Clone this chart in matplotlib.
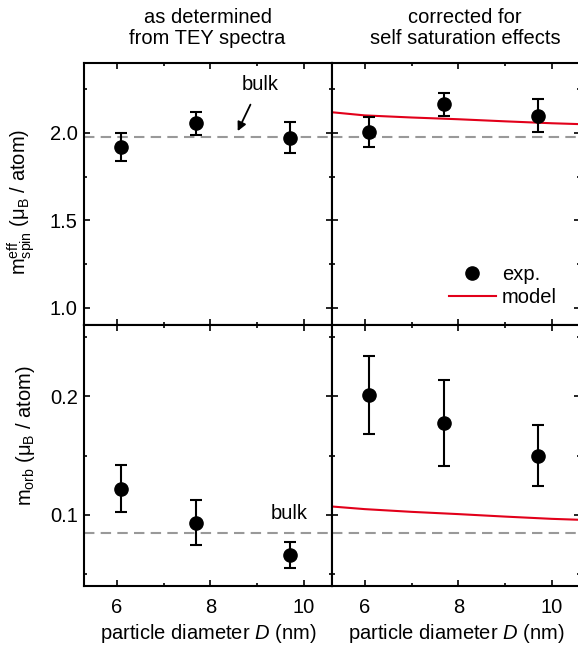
import numpy as np
import matplotlib
matplotlib.use('Agg')
import matplotlib.pyplot as plt
from matplotlib.ticker import MultipleLocator

plt.rcParams['font.family'] = ['Liberation Sans', 'DejaVu Sans']
plt.rcParams['font.size'] = 14.5
plt.rcParams['mathtext.fontset'] = 'custom'
plt.rcParams['mathtext.rm'] = 'Liberation Sans'
plt.rcParams['mathtext.it'] = 'Liberation Sans:italic'
plt.rcParams['mathtext.default'] = 'regular'

# particle diameters (nm)
D = [6.1, 7.7, 9.7]

# spin moment, as determined from TEY
spin_tey = [1.92, 2.055, 1.973]
spin_tey_err = [0.08, 0.065, 0.09]
# spin moment, corrected
spin_cor = [2.004, 2.164, 2.099]
spin_cor_err = [0.084, 0.067, 0.095]

# orbital moment, as determined from TEY
orb_tey = [0.122, 0.0935, 0.0664]
orb_tey_err = [0.020, 0.019, 0.011]
# orbital moment, corrected
orb_cor = [0.201, 0.1773, 0.150]
orb_cor_err = [0.033, 0.036, 0.0257]

# model curves
D_model = [5.3, 6, 7, 8, 9, 10, 10.6]
spin_model = [2.118, 2.100, 2.088, 2.078, 2.066, 2.055, 2.050]
orb_model = [0.107, 0.1048, 0.1025, 0.1006, 0.0985, 0.0966, 0.0958]

spin_bulk = 1.978
orb_bulk = 0.085

red = '#e2001a'
grey = '#999999'

fig = plt.figure(figsize=(5.78, 6.49), dpi=100)
W, H = 578.0, 649.0
ax_tl = fig.add_axes([84/W, 1-325/H, 248/W, 262/H])
ax_tr = fig.add_axes([332/W, 1-325/H, 248/W, 262/H])
ax_bl = fig.add_axes([84/W, 1-586/H, 248/W, 261/H])
ax_br = fig.add_axes([332/W, 1-586/H, 248/W, 261/H])


def draw_points(ax, y, yerr, label=None):
    ax.errorbar(D, y, yerr=yerr, fmt='none', ecolor='black', elinewidth=1.5,
                capsize=4.5, capthick=1.5, zorder=3)
    ax.plot(D, y, 'o', color='black', markersize=9.5, zorder=4, label=label)


draw_points(ax_tl, spin_tey, spin_tey_err)
draw_points(ax_tr, spin_cor, spin_cor_err, label='exp.')
draw_points(ax_bl, orb_tey, orb_tey_err)
draw_points(ax_br, orb_cor, orb_cor_err)

ax_tr.plot(D_model, spin_model, color=red, lw=1.5, label='model')
ax_br.plot(D_model, orb_model, color=red, lw=1.5)

for ax in [ax_tl, ax_tr]:
    ax.axhline(spin_bulk, color=grey, lw=1.5, ls=(0, (5, 3)), zorder=1)
    ax.set_ylim(0.9, 2.4)
    ax.yaxis.set_major_locator(MultipleLocator(0.5))
    ax.yaxis.set_minor_locator(MultipleLocator(0.25))
for ax in [ax_bl, ax_br]:
    ax.axhline(orb_bulk, color=grey, lw=1.5, ls=(0, (5, 3)), zorder=1)
    ax.set_ylim(0.04, 0.26)
    ax.yaxis.set_major_locator(MultipleLocator(0.1))
    ax.yaxis.set_minor_locator(MultipleLocator(0.05))

for ax in [ax_tl, ax_tr, ax_bl, ax_br]:
    ax.set_xlim(5.3, 10.6)
    ax.xaxis.set_major_locator(MultipleLocator(2))
    ax.xaxis.set_minor_locator(MultipleLocator(1))
    ax.tick_params(which='both', direction='in', top=True, right=True, width=1.2)
    ax.tick_params(which='major', length=4)
    ax.tick_params(which='minor', length=2.5)
    ax.tick_params(axis='x', pad=8.5)
    ax.tick_params(axis='y', pad=4.5)
    for s in ax.spines.values():
        s.set_linewidth(1.5)

ax_tl.tick_params(labelbottom=False)
ax_tr.tick_params(labelbottom=False, labelleft=False)
ax_br.tick_params(labelleft=False)

ax_tl.set_ylabel('m$^{eff}_{spin}$ (μ$_B$ / atom)')
ax_bl.set_ylabel('m$_{orb}$ (μ$_B$ / atom)')
ax_tl.yaxis.set_label_coords(-0.188, 0.47)
ax_bl.yaxis.set_label_coords(-0.19, 0.575)

ax_bl.set_xlabel(r'particle diameter $\mathit{D}$ (nm)', labelpad=4)
ax_br.set_xlabel(r'particle diameter $\mathit{D}$ (nm)', labelpad=4)

ax_tl.annotate('bulk', xy=(8.585, 2.01), xytext=(9.06, 2.275),
               ha='center', va='center', fontsize=14.5,
               arrowprops=dict(arrowstyle='-|>', color='black', lw=1.3,
                               mutation_scale=13, shrinkA=6, shrinkB=0))
ax_bl.text(9.68, 0.101, 'bulk', ha='center', va='center')

ax_tr.legend(loc='lower right', bbox_to_anchor=(0.906, 0.07), frameon=False,
             borderpad=0, handlelength=2.33, handletextpad=0.3,
             labelspacing=0.2, borderaxespad=0)

fig.text(207.6/W, 1-44/H, 'as determined\nfrom TEY spectra', ha='center',
         va='baseline', linespacing=1.15)
fig.text(465/W, 1-44/H, 'corrected for\nself saturation effects', ha='center',
         va='baseline', linespacing=1.15)

fig.savefig('out.png', dpi=100)
